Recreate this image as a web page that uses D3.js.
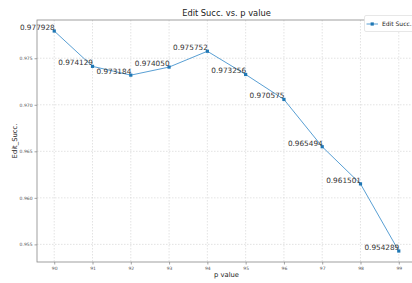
<!DOCTYPE html>
<html><head><meta charset="utf-8">
<script src="https://cdn.jsdelivr.net/npm/d3@7"></script>
<style>body{margin:0;background:#fff}svg{display:block;font-family:"DejaVu Sans",sans-serif}</style>
</head><body><svg id="c" width="412" height="283"></svg>
<script>
const pValues = [90, 91, 92, 93, 94, 95, 96, 97, 98, 99];
const editSucc = [0.977928, 0.974129, 0.973184, 0.974050, 0.975752, 0.973256, 0.970575, 0.965494, 0.961501, 0.954289];
const labels = ["0.977928","0.974129","0.973184","0.974050","0.975752","0.973256","0.970575","0.965494","0.961501","0.954289"];
const yTicks = [0.955, 0.960, 0.965, 0.970, 0.975];
const yTickLabels = ["0.955","0.960","0.965","0.970","0.975"];

const svg = d3.select("#c");
const L = 37, R = 416, T = 20, B = 262;
const xMin = 90 - 0.45, xMax = 99 + 0.45;
const yr = d3.max(editSucc) - d3.min(editSucc);
const x = d3.scaleLinear().domain([xMin, xMax]).range([L, R]);
const y = d3.scaleLinear().domain([d3.min(editSucc) - yr*0.05, d3.max(editSucc) + yr*0.05]).range([B, T]);

// grid
svg.append("g").selectAll("line").data(pValues).join("line")
  .attr("x1", d => x(d)).attr("x2", d => x(d)).attr("y1", T).attr("y2", B)
  .attr("stroke", "#d0d0d0").attr("stroke-width", 0.6).attr("stroke-dasharray", "1.5,1.5");
svg.append("g").selectAll("line").data(yTicks).join("line")
  .attr("x1", L).attr("x2", R).attr("y1", d => y(d)).attr("y2", d => y(d))
  .attr("stroke", "#d0d0d0").attr("stroke-width", 0.6).attr("stroke-dasharray", "1.5,1.5");

// axes
const xAxis = d3.axisBottom(x).tickValues(pValues).tickFormat(d3.format("d")).tickSize(2.5).tickPadding(2);
const yAxis = d3.axisLeft(y).tickValues(yTicks).tickFormat((d,i) => yTickLabels[i]).tickSize(2.5).tickPadding(2);
const gx = svg.append("g").attr("transform", `translate(0,${B})`).call(xAxis);
const gy = svg.append("g").attr("transform", `translate(${L},0)`).call(yAxis);
[gx, gy].forEach(g => {
  g.select(".domain").remove();
  g.selectAll(".tick line").attr("stroke", "#666").attr("stroke-width", 0.6);
  g.selectAll(".tick text").attr("fill", "#555").style("font-size", "4.5px").style("font-family", "DejaVu Sans");
});
// spines
svg.append("rect").attr("x", L).attr("y", T).attr("width", R - L).attr("height", B - T)
  .attr("fill", "none").attr("stroke", "#888").attr("stroke-width", 0.8);

// line
svg.append("path").datum(pValues.map((p,i) => [p, editSucc[i]]))
  .attr("d", d3.line().x(d => x(d[0])).y(d => y(d[1])))
  .attr("fill", "none").attr("stroke", "#2f86c8").attr("stroke-width", 0.8);
svg.append("g").selectAll("rect").data(pValues).join("rect")
  .attr("x", d => x(d) - 1.6).attr("y", (d,i) => y(editSucc[i]) - 1.6).attr("width", 3.2).attr("height", 3.2)
  .attr("fill", "#1f77b4");

// annotations
svg.append("g").selectAll("text").data(pValues).join("text")
  .attr("x", d => x(d) + 0.5).attr("y", (d,i) => y(editSucc[i]) - 1.2)
  .attr("text-anchor", "end").attr("fill", "#333").style("font-size", "7.3px")
  .text((d,i) => labels[i]);

// title & labels
svg.append("text").attr("x", (L + R)/2).attr("y", 16).attr("text-anchor", "middle")
  .attr("fill", "#222").style("font-size", "8.3px").text("Edit Succ. vs. p value");
svg.append("text").attr("x", (L + R)/2).attr("y", 277).attr("text-anchor", "middle")
  .attr("fill", "#222").style("font-size", "6.8px").text("p value");
svg.append("text").attr("transform", `translate(17,${(T+B)/2}) rotate(-90)`).attr("text-anchor", "middle")
  .attr("fill", "#222").style("font-size", "6.8px").text("Edit_Succ.");

// legend
const lg = svg.append("g");
lg.append("rect").attr("x", 364.5).attr("y", 15.5).attr("width", 60).attr("height", 16).attr("rx", 1.5)
  .attr("fill", "#fff").attr("stroke", "#ddd").attr("stroke-width", 0.7);
lg.append("line").attr("x1", 366.5).attr("x2", 378).attr("y1", 24).attr("y2", 24)
  .attr("stroke", "#2f86c8").attr("stroke-width", 0.8);
lg.append("rect").attr("x", 370.6).attr("y", 22.4).attr("width", 3.2).attr("height", 3.2).attr("fill", "#1f77b4");
lg.append("text").attr("x", 382).attr("y", 26.3).attr("fill", "#222").style("font-size", "6px").text("Edit Succ.");
</script></body></html>
